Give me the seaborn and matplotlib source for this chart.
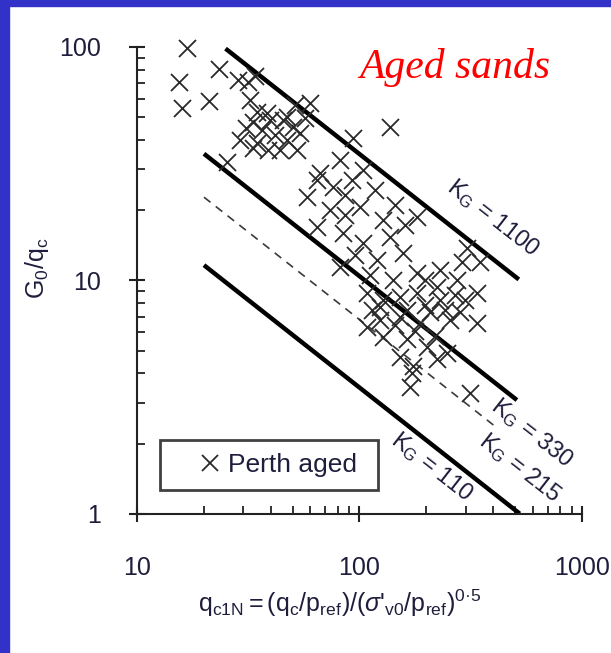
import numpy as np
import matplotlib
matplotlib.use("Agg")
import matplotlib.pyplot as plt
from matplotlib.patches import Rectangle
from matplotlib.lines import Line2D
import seaborn as sns


# data (q_c1N, G0/qc)
qc1n = [16.8, 23.4, 15.4, 15.9, 21.1, 28.4, 31.5, 33.9, 34.6, 33.2,
        38.4, 29.0, 34.6, 38.8, 33.2, 25.4, 47.2, 50.2, 59.9, 47.2,
        52.4, 93.5, 81.7, 66.4, 58.1, 76.0, 100.5, 137, 45.3, 36.5,
        103.7, 64.4, 127.5, 181, 64.4, 84.3, 103.7, 137, 81.7, 120,
        157, 304, 289, 348, 141, 181, 223, 274, 337, 108,
        124, 163, 207, 255, 127.5, 152, 181, 230, 269, 337,
        283, 187, 152, 124, 108, 127.5, 163, 201, 247, 152,
        174, 169, 172, 314, 223, 41.7, 30.9, 43.9, 54.0, 56.9,
        51.3, 86.0, 92.5, 117, 144, 160, 73.7, 95.4, 111,
        197, 242, 178, 218, 144, 298, 197, 114, 39.6, 32.2,
        86.0, 230]
g0_qc = [99.0, 80.5, 70.8, 54.8, 58.7, 72.2, 70.8, 75.1, 52.7, 47.7,
         52.2, 40.0, 38.8, 36.2, 36.9, 32.2, 50.1, 45.4, 57.6, 40.0,
         36.2, 40.8, 32.8, 28.9, 22.8, 25.1, 20.6, 45.4, 48.7, 44.1,
         29.7, 26.9, 18.2, 18.7, 17.0, 16.0, 14.5, 15.4, 11.4, 12.2,
         13.1, 13.8, 12.0, 12.0, 10.0, 10.8, 9.4, 10.0, 8.8, 8.8,
         7.7, 7.5, 7.3, 6.8, 8.25, 8.5, 8.8, 8.25, 8.7, 6.6,
         7.3, 6.6, 7.0, 6.8, 6.3, 5.7, 5.6, 5.2, 4.9, 4.7,
         4.3, 3.5, 4.0, 3.3, 4.6, 42.0, 45.0, 36.2, 42.8, 49.6,
         56.4, 23.2, 26.9, 24.4, 21.1, 17.3, 20.0, 12.9, 10.6,
         7.85, 7.5, 6.1, 5.8, 6.45, 8.25, 10.0, 7.5, 48.7, 59.3,
         19.1, 11.1]

# K_G lines: G0/qc = K_G / qc1N^0.75
kg_values = [1100, 330, 215, 110]
kg_start = [25, 20, 20, 20]
kg_end = [520, 510, 400, 525]
kg_styles = ["-", "-", "--", "-"]
kg_label_x = [398, 596, 526, 212]
kg_label_y = [18.5, 2.22, 1.57, 1.59]

sns.set_style("ticks")
plt.rcParams["font.family"] = ["Liberation Sans", "DejaVu Sans"]
plt.rcParams["mathtext.fontset"] = "custom"
plt.rcParams["mathtext.rm"] = "Liberation Sans"
plt.rcParams["mathtext.it"] = "Liberation Sans:italic"
plt.rcParams["mathtext.bf"] = "Liberation Sans:bold"

txt = "#1e1e3c"

fig = plt.figure(figsize=(6.11, 6.53), dpi=100)
ax = fig.add_axes([0.2242, 0.2129, 0.7283, 0.7152])

# frame of the slide
fig.patches.append(Rectangle((0, 1 - 6 / 653), 1, 6 / 653, transform=fig.transFigure,
                             color="#3232c8", zorder=0))
fig.patches.append(Rectangle((0, 0), 9 / 611, 1, transform=fig.transFigure,
                             color="#3232c8", zorder=0))

for k, x0, x1, ls in zip(kg_values, kg_start, kg_end, kg_styles):
    xs = np.geomspace(x0, x1, 50)
    if ls == "--":
        ax.plot(xs, k / xs ** 0.75, ls=ls, color="#3a3a3a", lw=1.2, dashes=(5, 4))
    else:
        ax.plot(xs, k / xs ** 0.75, ls=ls, color="black", lw=3.2, solid_capstyle="butt")

sns.scatterplot(x=qc1n, y=g0_qc, marker="x", s=150, color="#2a2a2a",
                linewidth=1.3, ax=ax, legend=False, zorder=3, clip_on=False)

ax.set_xscale("log")
ax.set_yscale("log")
ax.set_xlim(10, 1000)
ax.set_ylim(1, 100)

for k, lx, ly in zip(kg_values, kg_label_x, kg_label_y):
    ax.text(lx, ly, r"$\mathregular{K_G}$ = " + str(k), rotation=-38, color=txt,
            fontsize=17, ha="center", va="center", rotation_mode="anchor")

for s in ["top", "right"]:
    ax.spines[s].set_visible(False)
for s in ["left", "bottom"]:
    ax.spines[s].set_linewidth(1.5)
    ax.spines[s].set_color("#222222")

ax.set_xticks([10, 100, 1000])
ax.set_xticklabels(["10", "100", "1000"])
ax.set_yticks([1, 10, 100])
ax.set_yticklabels(["1", "10", "100"])
ax.tick_params(which="both", bottom=True, left=True, top=False, right=False)
ax.tick_params(which="major", direction="inout", length=12, width=1.5,
               color="#222222", labelsize=18, labelcolor=txt)
ax.tick_params(which="minor", direction="in", length=6, width=1.3, color="#222222")
ax.tick_params(axis="x", which="major", pad=24)
ax.tick_params(axis="y", which="major", pad=20)

ax.set_ylabel(r"$\mathregular{G_0/q_c}$", fontsize=18, color=txt, labelpad=6, y=0.527)
ax.set_xlabel(r"$\mathregular{q_{c1N} = (q_c/p_{ref})/(}\sigma\mathregular{'_{v0}/p_{ref})^{0" + "\u00b7" + "5}}$",
              fontsize=18, color=txt, labelpad=6, x=0.456)

handle = Line2D([], [], ls="none", marker="x", markersize=12, mew=1.3, color="#2a2a2a")
leg = ax.legend([handle], ["Perth aged"], loc="lower left",
                bbox_to_anchor=(0.052, 0.051, 0.49, 0.105), mode="expand",
                borderaxespad=0, fontsize=19,
                handlelength=2.79, handletextpad=-0.71, borderpad=0.5,
                fancybox=False, frameon=True, labelcolor=txt)
leg.get_frame().set_edgecolor("#111111")
leg.get_frame().set_linewidth(2)

fig.text(0.745, 0.897, "Aged sands", color="red", fontsize=30, style="italic",
         family="Liberation Serif", ha="center", va="center")

fig.savefig("out.png", dpi=100)
